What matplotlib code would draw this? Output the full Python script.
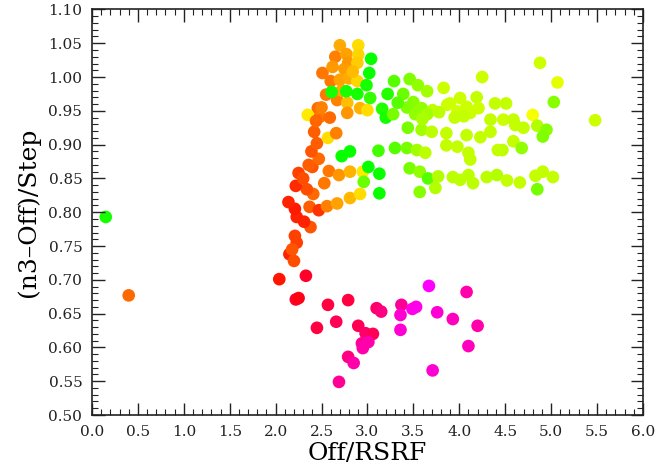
""" Scatter of (n3-Off)/Step against Off/RSRF, colour coded by hue """
import numpy as np
import matplotlib
matplotlib.use("Agg")
from matplotlib import pyplot as plt
from matplotlib.colors import hsv_to_rgb
from matplotlib.ticker import MultipleLocator, FormatStrFormatter

# outliers on the left
x_out = [0.15, 0.40]
y_out = [0.793, 0.677]
h_out = [115, 25]

# pink / magenta group at the bottom
x_pink = [2.04, 2.33, 2.22, 2.25, 2.57, 2.79, 2.45, 2.66, 2.90, 2.98, 3.06, 2.94,
          3.01, 2.95, 2.79, 2.85, 2.69, 3.10, 3.15, 3.37, 3.36, 3.36, 3.49, 3.53,
          3.67, 3.76, 3.71, 3.93, 4.08, 4.10, 4.20]
y_pink = [0.701, 0.706, 0.671, 0.673, 0.663, 0.670, 0.629, 0.638, 0.632, 0.621, 0.620, 0.606,
          0.608, 0.599, 0.586, 0.577, 0.549, 0.658, 0.653, 0.663, 0.648, 0.626, 0.657, 0.660,
          0.691, 0.652, 0.566, 0.642, 0.682, 0.602, 0.632]
h_pink = [5, 350, 350, 355, 345, 345, 345, 340, 340, 335, 340, 325,
          320, 320, 330, 320, 325, 335, 330, 325, 310, 310, 305, 305,
          300, 310, 310, 315, 320, 315, 320]

# red / orange / yellow chain
x_warm = [2.21, 2.23, 2.15, 2.20, 2.18, 2.38, 2.31, 2.23, 2.21, 2.14, 2.37, 2.47,
          2.56, 2.41, 2.34, 2.22, 2.53, 2.67, 2.81, 2.92, 2.25, 2.40, 2.58, 2.69,
          2.81, 2.95, 2.47, 2.39, 2.45, 2.42, 2.57, 2.66,
          2.70, 2.90, 2.65, 2.77, 2.90, 2.79, 2.89, 2.75, 2.51, 2.60, 2.70, 2.80,
          2.89, 2.55, 2.67, 2.78, 2.92, 3.00, 2.46, 2.35, 2.48, 2.59, 2.78, 2.50, 2.44,
          2.84, 2.62, 2.72, 2.36, 2.30]
y_warm = [0.765, 0.755, 0.738, 0.728, 0.745, 0.778, 0.786, 0.793, 0.805, 0.815, 0.808, 0.803,
          0.809, 0.827, 0.834, 0.839, 0.843, 0.813, 0.821, 0.827, 0.858, 0.867, 0.861, 0.855,
          0.860, 0.860, 0.879, 0.890, 0.902, 0.919, 0.910, 0.917,
          1.047, 1.047, 1.030, 1.034, 1.033, 1.021, 1.021, 1.012, 1.006, 0.994, 0.996, 0.998,
          0.994, 0.974, 0.966, 0.962, 0.954, 0.951, 0.954, 0.944, 0.941, 0.940, 0.947, 0.955, 0.935,
          1.008, 1.015, 0.980, 0.870, 0.850]
h_warm = [15, 15, 8, 18, 20, 20, 8, 8, 6, 8, 22, 12,
          30, 25, 18, 10, 28, 38, 43, 52, 15, 20, 28, 35,
          42, 55, 25, 20, 22, 22, 52, 30,
          40, 52, 30, 38, 50, 35, 48, 37, 28, 28, 38, 40,
          50, 28, 30, 45, 42, 52, 25, 55, 28, 25, 35, 30, 24,
          44, 36, 40, 22, 18]

# green points next to the main chain
x_green = [3.04, 3.02, 2.99, 2.77, 2.89, 2.61, 3.03, 3.16, 3.20, 3.22, 2.72, 2.81,
           3.01, 3.13, 2.96, 3.13, 3.12]
y_green = [1.027, 1.006, 0.988, 0.979, 0.975, 0.978, 0.969, 0.953, 0.940, 0.975, 0.883, 0.890,
           0.867, 0.857, 0.845, 0.828, 0.891]
h_green = [118, 118, 115, 115, 115, 115, 108, 112, 115, 112, 118, 118,
           118, 118, 95, 118, 105]

# yellow-green group on the right
x_lime = [3.29, 3.46, 3.55, 3.65, 3.83, 4.25, 4.88, 5.07, 5.03, 5.48, 3.39, 3.50,
          3.43, 3.59, 3.71, 3.87, 3.90, 4.01, 4.08, 4.19, 4.21, 3.98, 4.12, 4.34,
          4.39, 4.51, 4.48, 4.59, 4.80, 4.70, 4.85, 4.95, 4.91, 4.61, 3.44, 3.59,
          3.70, 3.86, 4.08, 4.23, 4.34, 4.59, 4.68, 4.47, 3.86, 3.98, 4.10, 4.12,
          4.42, 3.30, 3.43, 3.54, 3.63, 3.46, 3.57, 3.66, 3.77, 3.93, 4.10, 4.15,
          4.30, 4.41, 4.52, 4.66, 4.83, 4.91, 5.02, 4.85, 3.57, 3.74, 4.01, 3.52,
          3.65, 3.78, 3.33, 3.28, 3.95, 4.05, 3.60]
y_lime = [0.994, 0.997, 0.988, 0.979, 0.984, 1.000, 1.021, 0.992, 0.963, 0.936, 0.975, 0.963,
          0.955, 0.954, 0.951, 0.959, 0.961, 0.969, 0.956, 0.970, 0.954, 0.949, 0.947, 0.937,
          0.961, 0.961, 0.937, 0.937, 0.944, 0.925, 0.928, 0.922, 0.912, 0.929, 0.925, 0.922,
          0.919, 0.917, 0.914, 0.911, 0.919, 0.905, 0.895, 0.892, 0.899, 0.897, 0.888, 0.878,
          0.892, 0.895, 0.895, 0.892, 0.888, 0.865, 0.860, 0.850, 0.853, 0.852, 0.855, 0.843,
          0.852, 0.855, 0.847, 0.844, 0.854, 0.860, 0.852, 0.834, 0.830, 0.836, 0.848, 0.945,
          0.945, 0.948, 0.962, 0.945, 0.940, 0.942, 0.938]
h_lime = [100, 90, 86, 82, 72, 72, 72, 66, 88, 72, 95, 88,
          90, 86, 76, 72, 72, 72, 72, 74, 72, 72, 72, 74,
          74, 74, 72, 74, 62, 74, 78, 88, 90, 74, 92, 82,
          76, 74, 74, 74, 74, 74, 86, 76, 74, 74, 74, 74,
          74, 100, 92, 82, 76, 92, 86, 100, 78, 76, 76, 76,
          76, 78, 74, 74, 74, 74, 74, 92, 88, 78, 76, 86,
          82, 76, 100, 92, 74, 74, 80]


def to_rgb(hues):
    hsv = np.column_stack([np.array(hues) / 360.0, np.ones(len(hues)), np.ones(len(hues))])
    return hsv_to_rgb(hsv)


plt.rcParams['font.family'] = 'DejaVu Serif'

fig = plt.figure(figsize=(6.58, 4.73), dpi=100)
ax = fig.add_axes([0.1398, 0.1226, 0.8372, 0.8574])

groups = [(x_out, y_out, h_out), (x_pink, y_pink, h_pink), (x_warm, y_warm, h_warm),
          (x_green, y_green, h_green), (x_lime, y_lime, h_lime)]
for xs, ys, hs in groups:
    ax.scatter(xs, ys, s=83, c=to_rgb(hs), edgecolors='none')

ax.set_xlim(0, 6)
ax.set_ylim(0.5, 1.1)
ax.xaxis.set_major_locator(MultipleLocator(0.5))
ax.xaxis.set_minor_locator(MultipleLocator(0.1))
ax.yaxis.set_major_locator(MultipleLocator(0.05))
ax.yaxis.set_minor_locator(MultipleLocator(0.01))
ax.xaxis.set_major_formatter(FormatStrFormatter('%.1f'))
ax.yaxis.set_major_formatter(FormatStrFormatter('%.2f'))
ax.tick_params(which='both', direction='in', top=True, right=True, colors='#222222')
ax.tick_params(which='major', length=9, width=1.0, labelsize=11, pad=7)
ax.tick_params(which='minor', length=4.5, width=0.8)
for sp in ax.spines.values():
    sp.set_linewidth(1.2)
    sp.set_color('#222222')

ax.set_xlabel('Off/RSRF', fontsize=18, labelpad=2)
ax.set_ylabel('(n3–Off)/Step', fontsize=18, labelpad=6)

fig.savefig('out.png', dpi=100)
